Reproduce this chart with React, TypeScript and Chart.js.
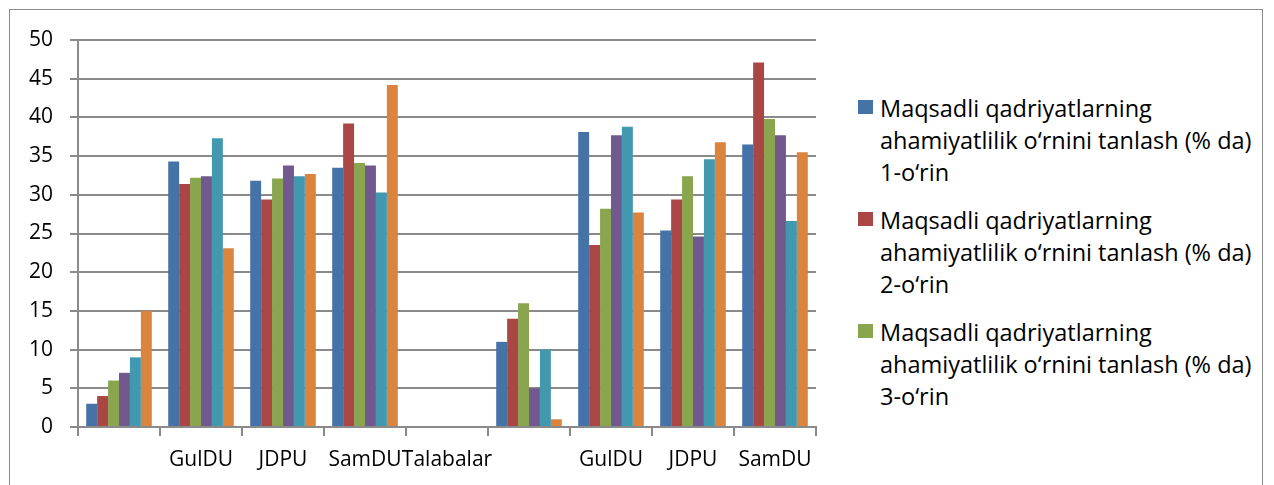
import React, { useEffect, useRef } from "react";
import { Chart, registerables } from "chart.js";

Chart.register(...registerables);

const categories = ["", "GulDU", "JDPU", "SamDU", "Talabalar", "", "GulDU", "JDPU", "SamDU"];

const seriesNames = [
  "Maqsadli qadriyatlarning ahamiyatlilik o‘rnini tanlash (% da) 1-o‘rin",
  "Maqsadli qadriyatlarning ahamiyatlilik o‘rnini tanlash (% da) 2-o‘rin",
  "Maqsadli qadriyatlarning ahamiyatlilik o‘rnini tanlash (% da) 3-o‘rin",
  "Maqsadli qadriyatlarning ahamiyatlilik o‘rnini tanlash (% da) 4-o‘rin",
  "Maqsadli qadriyatlarning ahamiyatlilik o‘rnini tanlash (% da) 5-o‘rin",
  "Maqsadli qadriyatlarning ahamiyatlilik o‘rnini tanlash (% da) 6-o‘rin",
];

const legendLines = [
  ["Maqsadli qadriyatlarning", "ahamiyatlilik o‘rnini tanlash (% da)", "1-o‘rin"],
  ["Maqsadli qadriyatlarning", "ahamiyatlilik o‘rnini tanlash (% da)", "2-o‘rin"],
  ["Maqsadli qadriyatlarning", "ahamiyatlilik o‘rnini tanlash (% da)", "3-o‘rin"],
];

const series1 = [3, 34.3, 31.8, 33.5, 0, 11, 38.1, 25.4, 36.5];
const series2 = [4, 31.4, 29.4, 39.2, 0, 14, 23.5, 29.4, 47.1];
const series3 = [6, 32.2, 32.1, 34.1, 0, 16, 28.2, 32.4, 39.8];
const series4 = [7, 32.4, 33.8, 33.8, 0, 5, 37.7, 24.6, 37.7];
const series5 = [9, 37.3, 32.4, 30.3, 0, 10, 38.8, 34.6, 26.6];
const series6 = [15, 23.1, 32.7, 44.2, 0, 1, 27.7, 36.8, 35.5];

const colors = ["#4572A7", "#AA4643", "#89A54E", "#71588F", "#4198AF", "#DB843D"];

const FONT = "'Open Sans', 'Noto Sans', sans-serif";
const GRID = "#8a8a8a";

export default function App() {
  const ref = useRef<HTMLCanvasElement | null>(null);

  useEffect(() => {
    if (!ref.current) return;
    const all = [series1, series2, series3, series4, series5, series6];
    const chart = new Chart(ref.current, {
      type: "bar",
      data: {
        labels: categories,
        datasets: all.map((d, i) => ({
          label: seriesNames[i],
          data: d,
          backgroundColor: colors[i],
          borderWidth: 0,
          categoryPercentage: 0.8,
          barPercentage: 1.0,
        })),
      },
      options: {
        animation: false,
        responsive: false,
        maintainAspectRatio: false,
        layout: { padding: { left: 0, right: 24, top: 30, bottom: 0 } },
        plugins: {
          legend: { display: false },
          tooltip: { enabled: false },
        },
        scales: {
          x: {
            grid: {
              offset: true,
              drawOnChartArea: false,
              drawTicks: true,
              tickLength: 9,
              color: GRID,
              lineWidth: 2,
            },
            border: { color: GRID, width: 2 },
            ticks: {
              autoSkip: false,
              maxRotation: 0,
              minRotation: 0,
              padding: 11,
              color: "#000",
              font: { family: FONT, size: 21 },
            },
            afterFit: (scale: any) => {
              scale.height = 58;
            },
          },
          y: {
            min: 0,
            max: 50,
            ticks: {
              stepSize: 5,
              padding: 17,
              color: "#000",
              font: { family: FONT, size: 21 },
            },
            grid: {
              color: GRID,
              lineWidth: 2,
              tickLength: 8,
              drawTicks: true,
            },
            border: { color: GRID, width: 2 },
            afterFit: (scale: any) => {
              scale.width = 68;
            },
          },
        },
      },
    });
    return () => chart.destroy();
  }, []);

  return (
    <div style={{ position: "absolute", left: 0, top: 0, width: 1274, height: 485, background: "#fff", overflow: "hidden" }}>
      <div
        style={{
          position: "absolute",
          left: 9,
          top: 9,
          width: 1254,
          height: 490,
          border: "1px solid #8c8c8c",
          boxSizing: "border-box",
        }}
      />
      <canvas
        ref={ref}
        width={830}
        height={475}
        style={{ position: "absolute", left: 10, top: 10, width: 830, height: 475 }}
      />
      <div style={{ position: "absolute", left: 858, top: 92, fontFamily: FONT, fontSize: 23.5, color: "#000" }}>
        {legendLines.map((lines, i) => (
          <div key={i} style={{ position: "relative", height: 112 }}>
            <div
              style={{
                position: "absolute",
                left: 0,
                top: 8,
                width: 15,
                height: 14,
                background: colors[i],
              }}
            />
            <div style={{ position: "absolute", left: 22, top: 0, lineHeight: "32px", whiteSpace: "nowrap" }}>
              {lines.map((l, j) => (
                <div key={j}>{l}</div>
              ))}
            </div>
          </div>
        ))}
      </div>
    </div>
  );
}
